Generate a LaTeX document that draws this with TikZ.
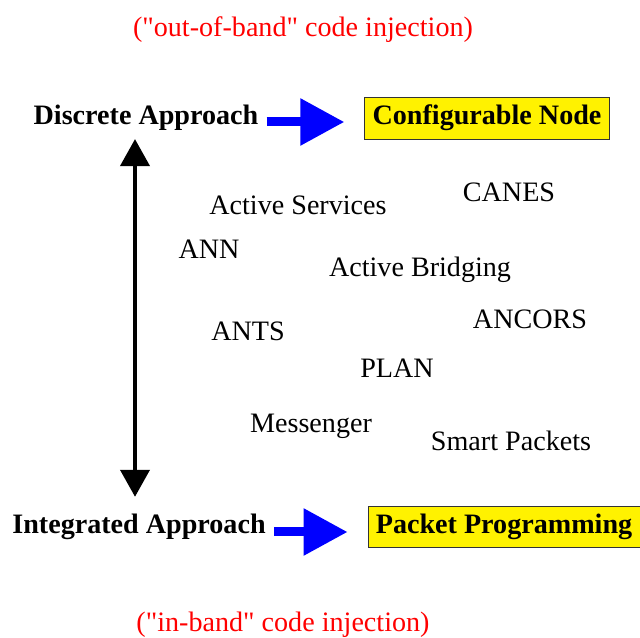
\documentclass[tikz,border=0pt]{standalone}
\usepackage{xcolor}
\usepackage{fontspec}
\setmainfont{Liberation Serif}[Ligatures=TeXOff]
\usepackage{tikz}
\usetikzlibrary{positioning,calc,arrows.meta}

\begin{document}
\begin{tikzpicture}[
    lbl/.style={inner sep=0pt, font=\fontsize{16}{19}\selectfont},
    approach/.style={lbl, font=\fontsize{16}{19}\selectfont\bfseries},
    injection/.style={lbl, text=red},
    model/.style={draw=black!80, thin, fill=yellow, inner sep=4.5pt, minimum height=0.72cm, font=\fontsize{16}{19}\selectfont\bfseries},
    bigarrow/.style={blue, line width=0.18cm, -{Triangle[length=0.88cm, width=0.9cm]}},
    updown/.style={line width=0.08cm, {Triangle[length=0.54cm, width=0.58cm]}-{Triangle[length=0.54cm, width=0.58cm]}}
]
    \useasboundingbox (0,0) rectangle (12.8,12.74); % frame

    \node[injection] (outband) at (6.06,12.14) {("out-of-band" code injection)};
    \node[approach] (discrete) at (2.92,10.38) {Discrete Approach};
    \node[model] (config) at (9.74,10.38) {Configurable Node};
    \draw[bigarrow] ([xshift=0.16cm,yshift=-0.08cm]discrete.east) -- ([xshift=-0.4cm,yshift=-0.08cm]config.west);

    % systems in between
    \node[lbl] (canes) at (10.18,8.90) {CANES};
    \node[lbl] (services) at (5.96,8.64) {Active Services};
    \node[lbl] (ann) at (4.18,7.76) {ANN};
    \node[lbl] (bridging) at (8.40,7.34) {Active Bridging};
    \node[lbl] (ancors) at (10.60,6.36) {ANCORS};
    \node[lbl] (ants) at (4.96,6.12) {ANTS};
    \node[lbl] (plan) at (7.94,5.38) {PLAN};
    \node[lbl] (messenger) at (6.22,4.22) {Messenger};
    \node[lbl] (smart) at (10.22,3.92) {Smart Packets};

    \node[approach] (integrated) at (2.78,2.20) {Integrated Approach};
    \node[model] (packet) at (10.08,2.20) {Packet Programming};
    \draw[bigarrow] ([xshift=0.16cm,yshift=-0.1cm]integrated.east) -- ([xshift=-0.4cm,yshift=-0.1cm]packet.west);
    \node[injection] (inband) at (5.66,0.24) {("in-band" code injection)};

    \draw[updown] ([xshift=-0.22cm,yshift=-0.16cm]discrete.south) -- ([xshift=-0.08cm,yshift=0.34cm]integrated.north); % spectrum
\end{tikzpicture}
\end{document}
